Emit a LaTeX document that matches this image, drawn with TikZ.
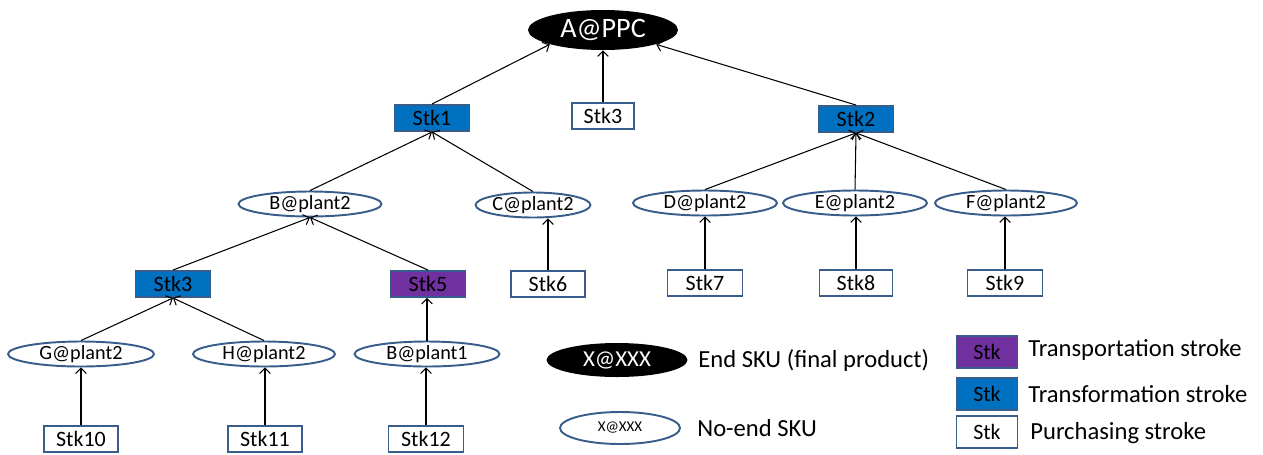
\documentclass[tikz,border=0pt]{standalone}
\usepackage{fontspec}
\setmainfont{Carlito}
\usetikzlibrary{shapes.geometric,arrows.meta}
\definecolor{skublue}{HTML}{0070C0}
\definecolor{skuline}{HTML}{385D8A}
\definecolor{skupurple}{HTML}{7030A0}
\begin{document}
\begin{tikzpicture}[x=0.02cm,y=-0.02cm,
    stroke/.style={draw=skuline,line width=1.1pt,inner sep=0pt,
      minimum width=1.5cm,minimum height=0.52cm,font=\fontsize{12.5}{14}\selectfont},
    purch/.style={stroke,fill=white},
    trans/.style={stroke,fill=skublue},
    transp/.style={stroke,fill=skupurple},
    sku/.style={ellipse,draw=skuline,line width=1.1pt,inner sep=0pt,
      minimum width=2.86cm,minimum height=0.5cm,font=\fontsize{11.5}{13}\selectfont},
    endsku/.style={ellipse,fill=black,text=white,inner sep=0pt},
    legtext/.style={anchor=west,inner sep=0pt,font=\fontsize{14}{16}\selectfont}]
  \useasboundingbox (0,0) rectangle (1263,454);
  \draw
    (603,30) node[endsku,minimum width=3cm,minimum height=0.8cm,
      font=\fontsize{16}{18}\selectfont] (A){A@PPC}
    (432,118) node[trans] (s1){Stk1}
    (603,116) node[purch,minimum width=1.24cm] (s3){Stk3}
    (856,119) node[trans] (s2){Stk2}
    (310,204) node[sku] (B2){B@plant2}
    (533,205) node[sku,minimum width=2.26cm] (C){C@plant2}
    (705,203) node[sku,minimum width=2.88cm] (D){D@plant2}
    (855,203) node[sku,minimum width=2.88cm] (E){E@plant2}
    (1006,203) node[sku,minimum width=2.84cm] (F){F@plant2}
    (173,284) node[trans] (s3b){Stk3}
    (428,284) node[transp] (s5){Stk5}
    (548,284) node[purch,minimum width=1.48cm] (s6){Stk6}
    (705,283) node[purch] (s7){Stk7}
    (856,283) node[purch,minimum width=1.46cm] (s8){Stk8}
    (1005,283) node[purch] (s9){Stk9}
    (81,354) node[sku,minimum width=2.92cm] (G){G@plant2}
    (264,354) node[sku,minimum width=2.84cm] (H){H@plant2}
    (427,354) node[sku,minimum width=2.9cm] (B1){B@plant1}
    (81,439) node[purch,minimum width=1.48cm] (s10){Stk10}
    (265,439) node[purch,minimum width=1.48cm] (s11){Stk11}
    (426,439) node[purch] (s12){Stk12};
  \begin{scope}[-{Straight Barb[length=3pt,width=6pt]},line width=0.6pt]
    \draw (s1.north) to (A.south west);
    \draw (s3) to (A);
    \draw (s2.north) to (A.south east);
    \draw (B2.north) to (s1.south);
    \draw (C.north) to (s1.south);
    \draw (D.north) to (s2.south);
    \draw (E.north) to (s2.south);
    \draw (F.north) to (s2.south);
    \draw (s3b.north) to (B2.south);
    \draw (s5.north) to (B2.south);
    \draw (s6.north) to (s6.north |- C.south);
    \draw (s7.north) to (s7.north |- D.south);
    \draw (s8.north) to (s8.north |- E.south);
    \draw (s9.north) to (s9.north |- F.south);
    \draw (G.north) to (s3b.south);
    \draw (H.north) to (s3b.south);
    \draw (B1.north) to (B1.north |- s5.south);
    \draw (s10.north) to (s10.north |- G.south);
    \draw (s11.north) to (s11.north |- H.south);
    \draw (s12.north) to (s12.north |- B1.south);
  \end{scope}
  % legend
  \draw
    (617,360) node[endsku,minimum width=2.82cm,minimum height=0.68cm,
      font=\fontsize{13}{15}\selectfont] (lend){X@XXX}
    (698,360) node[legtext] (lendt){End SKU (final product)}
    (620,428) node[sku,minimum width=2.4cm,minimum height=0.64cm,
      font=\fontsize{8.5}{10}\selectfont] (lsku){X@XXX}
    (697,428) node[legtext] (lskut){No-end SKU}
    (987,352) node[transp,minimum width=1.22cm,minimum height=0.64cm] (ltp){Stk}
    (1028,350) node[legtext] (ltpt){Transportation stroke}
    (987,394) node[trans,minimum width=1.22cm,minimum height=0.64cm] (ltf){Stk}
    (1028,394) node[legtext] (ltft){Transformation stroke}
    (987,432) node[purch,minimum width=1.22cm,minimum height=0.64cm] (lpu){Stk}
    (1030,433) node[legtext] (lput){Purchasing stroke};
\end{tikzpicture}
\end{document}
